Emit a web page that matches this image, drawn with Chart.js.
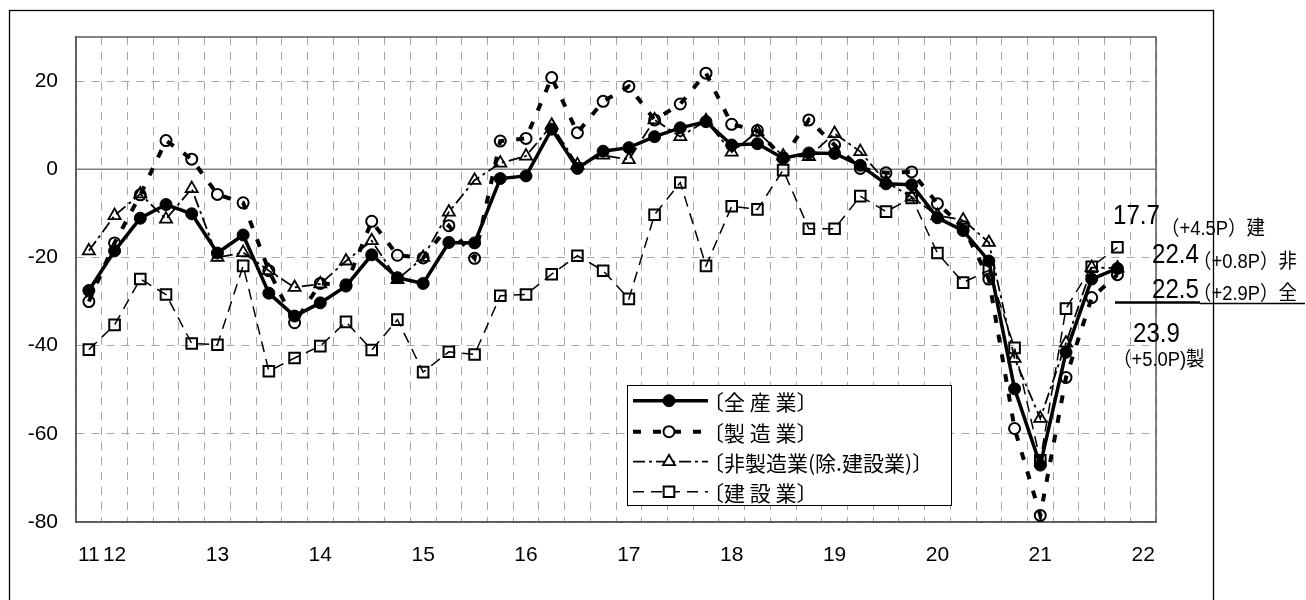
<!DOCTYPE html>
<html lang="ja">
<head>
<meta charset="utf-8">
<title>業況判断BSI</title>
<script src="https://cdn.jsdelivr.net/npm/chart.js@4.4.0/dist/chart.umd.min.js"></script>
<style>
  html, body { margin: 0; padding: 0; background: #fff; }
  #wrap { width: 1306px; height: 600px; }
</style>
</head>
<body>
<div id="wrap"><canvas id="bsi" width="1306" height="600"></canvas></div>
<script>
// 四半期（11年10-12月期 ～ 22年1-3月期）
const categories = [
  '11Q4',
  '12Q1', '12Q2', '12Q3', '12Q4',
  '13Q1', '13Q2', '13Q3', '13Q4',
  '14Q1', '14Q2', '14Q3', '14Q4',
  '15Q1', '15Q2', '15Q3', '15Q4',
  '16Q1', '16Q2', '16Q3', '16Q4',
  '17Q1', '17Q2', '17Q3', '17Q4',
  '18Q1', '18Q2', '18Q3', '18Q4',
  '19Q1', '19Q2', '19Q3', '19Q4',
  '20Q1', '20Q2', '20Q3', '20Q4',
  '21Q1', '21Q2', '21Q3', '21Q4',
  '22Q1'
];

// 年ラベルを出す期
const yearTickAt = ['11Q4', '12Q1', '13Q1', '14Q1', '15Q1', '16Q1', '17Q1', '18Q1', '19Q1', '20Q1', '21Q1', '22Q1'];
const yearTicks = ['11', '12', '13', '14', '15', '16', '17', '18', '19', '20', '21', '22'];
const yTicks = [-80, -60, -40, -20, 0, 20];

// 〔全産業〕
const allIndustry = [
  -27.5, -18.5, -11.1, -8.0, -10.1, -19.0, -14.9, -28.1, -33.3, -30.3, -26.5, -19.4, -24.6, -25.9, -16.6,
  -16.7, -2.1, -1.5, 9.1, 0.2, 4.1, 4.9, 7.4, 9.4, 10.8, 5.5, 5.8, 2.5,
  3.7, 3.6, 0.9, -3.3, -3.5, -11.0, -13.9, -20.8,
  -49.8, -67.1, -41.5, -24.9, -22.5, null
];
// 〔製造業〕
const manufacturing = [
  -30.0, -16.7, -5.8, 6.5, 2.3, -5.7, -7.6, -23.0, -34.8, -25.9, -26.2, -11.8, -19.5, -20.1, -12.8,
  -20.2, 6.4, 7.0, 20.8, 8.3, 15.4, 18.8, 11.2, 14.8, 21.8, 10.2, 8.8, 2.5,
  11.2, 5.5, 0.2, -0.8, -0.6, -7.8, -13.0, -24.9,
  -58.8, -78.5, -47.2, -29.1, -23.9, null
];
// 〔非製造業(除.建設業)〕
const nonManufacturing = [
  -18.5, -10.5, -5.6, -11.3, -4.4, -20.0, -18.9, -23.0, -26.8, -26.0, -20.8, -16.2, -25.0, -20.0, -9.7,
  -2.5, 1.4, 3.0, 10.0, 1.0, 3.2, 2.2, 11.2, 7.4, 11.0, 3.9, 8.5, 3.0,
  2.9, 8.1, 4.0, -2.9, -6.3, -10.5, -11.5, -16.6,
  -42.9, -56.5, -39.4, -22.3, -22.4, null
];
// 〔建設業〕
const construction = [
  -40.9, -35.3, -24.9, -28.4, -39.5, -39.8, -21.9, -45.8, -42.8, -40.1, -34.6, -41.0, -34.1, -46.0, -41.4,
  -42.0, -28.7, -28.4, -23.8, -19.6, -23.0, -29.4, -10.3, -3.0, -21.9, -8.4, -9.1, -0.2,
  -13.5, -13.5, -6.1, -9.6, -6.5, -19.0, -25.7, -22.9,
  -40.5, -66.0, -31.6, -22.1, -17.7, null
];

// 右端の最新値と前期差
const endValues = ['17.7', '22.4', '22.5', '23.9'];
const endChanges = ['（+4.5P）建', '（+0.8P）非', '（+2.9P）全', '（+5.0P)製'];

const numFont = "'Liberation Sans', Arial, sans-serif";
const jpFont = "'Liberation Sans', 'Noto Sans CJK JP', sans-serif";
const clear = 'rgba(255,255,255,0)';

const datasets = [
  {
    label: '〔全 産 業〕', data: allIndustry,
    borderColor: '#000', borderWidth: 3.5,
    pointStyle: 'circle', pointRadius: 6,
    pointBackgroundColor: '#000', pointBorderColor: '#000', pointBorderWidth: 1
  },
  {
    label: '〔製 造 業〕', data: manufacturing,
    borderColor: '#000', borderWidth: 4, borderDash: [8, 12],
    pointStyle: 'circle', pointRadius: 5.5,
    pointBackgroundColor: clear, pointBorderColor: '#000', pointBorderWidth: 2
  },
  {
    label: '〔非製造業(除.建設業)〕', data: nonManufacturing,
    borderColor: '#000', borderWidth: 1.8, borderDash: [12, 4, 3, 4],
    pointStyle: 'triangle', pointRadius: 7,
    pointBackgroundColor: clear, pointBorderColor: '#000', pointBorderWidth: 1.8
  },
  {
    label: '〔建 設 業〕', data: construction,
    borderColor: '#000', borderWidth: 1.5, borderDash: [11, 7],
    pointStyle: 'rect', pointRadius: 7.5,
    pointBackgroundColor: clear, pointBorderColor: '#000', pointBorderWidth: 2
  }
];

// ゼロ線とプロット枠
const framePlugin = {
  id: 'frame',
  beforeDatasetsDraw(chart) {
    const { ctx, chartArea: a, scales: { y } } = chart;
    const y0 = y.getPixelForValue(0);
    ctx.save();
    ctx.strokeStyle = '#7f7f7f';
    ctx.lineWidth = 1.5;
    ctx.beginPath();
    ctx.moveTo(a.left, y0);
    ctx.lineTo(a.right, y0);
    ctx.stroke();
    ctx.strokeStyle = '#595959';
    ctx.strokeRect(a.left, a.top, a.right - a.left, a.bottom - a.top);
    ctx.restore();
  }
};

// 凡例（線種＋マーカー）
const legendPlugin = {
  id: 'boxLegend',
  afterDatasetsDraw(chart) {
    const ctx = chart.ctx;
    const box = { x: 627.5, y: 385.5, w: 324, h: 120 };
    const rows = [400.7, 431.7, 461.7, 491.7];
    ctx.save();
    ctx.fillStyle = '#fff';
    ctx.fillRect(box.x, box.y, box.w, box.h);
    ctx.strokeStyle = '#000';
    ctx.lineWidth = 1;
    ctx.setLineDash([]);
    ctx.strokeRect(box.x, box.y, box.w, box.h);
    chart.data.datasets.forEach((ds, i) => {
      const yy = rows[i];
      ctx.strokeStyle = ds.borderColor;
      ctx.lineWidth = ds.borderWidth;
      ctx.setLineDash(ds.borderDash || []);
      ctx.beginPath();
      ctx.moveTo(633, yy);
      ctx.lineTo(708, yy);
      ctx.stroke();
      ctx.setLineDash([]);
      ctx.fillStyle = ds.pointBackgroundColor === clear ? '#fff' : ds.pointBackgroundColor;
      ctx.lineWidth = ds.pointBorderWidth;
      Chart.helpers.drawPoint(ctx, {
        pointStyle: ds.pointStyle, radius: ds.pointRadius, rotation: 0, borderWidth: ds.pointBorderWidth
      }, 669, yy);
      ctx.fillStyle = '#000';
      ctx.font = "21px 'Noto Sans CJK JP', sans-serif";
      ctx.textBaseline = 'middle';
      ctx.textAlign = 'left';
      ctx.fillText(ds.label, 703, yy + 1);
    });
    ctx.restore();
  }
};

// 外枠と右端の注記
const notesPlugin = {
  id: 'notes',
  afterDraw(chart) {
    const ctx = chart.ctx;
    ctx.save();
    ctx.strokeStyle = '#000';
    ctx.lineWidth = 1.3;
    ctx.strokeRect(9.5, 10.5, 1204, 640);

    const bigAt = [[1113, 224], [1152, 263], [1152, 298], [1133, 342]];
    const smallAt = [[1161, 235], [1193, 268], [1193, 300], [1113, 366]];
    ctx.fillStyle = '#000';
    ctx.textBaseline = 'alphabetic';
    ctx.textAlign = 'left';
    endValues.forEach((t, i) => {
      ctx.save();
      ctx.translate(bigAt[i][0], bigAt[i][1]);
      ctx.scale(0.86, 1);
      ctx.font = '28px ' + numFont;
      ctx.fillText(t, 0, 0);
      ctx.restore();
      ctx.save();
      ctx.translate(smallAt[i][0], smallAt[i][1]);
      ctx.scale(0.92, 1);
      ctx.font = '20px ' + jpFont;
      ctx.fillText(endChanges[i], 0, 0);
      ctx.restore();
    });
    // 全産業の下線
    ctx.lineWidth = 2.5;
    ctx.beginPath();
    ctx.moveTo(1115, 302.5);
    ctx.lineTo(1200, 302.5);
    ctx.stroke();
    ctx.lineWidth = 1.5;
    ctx.beginPath();
    ctx.moveTo(1200, 303.5);
    ctx.lineTo(1305, 303.5);
    ctx.stroke();
    ctx.restore();
  }
};

new Chart(document.getElementById('bsi'), {
  type: 'line',
  data: { labels: categories, datasets: datasets },
  options: {
    responsive: false,
    animation: false,
    layout: { padding: { left: 0, right: 150, top: 37, bottom: 0 } },
    elements: { line: { tension: 0 } },
    plugins: { legend: { display: false }, tooltip: { enabled: false } },
    scales: {
      x: {
        type: 'category',
        offset: true,
        grid: { offset: true, color: '#a6a6a6', lineWidth: 1, drawTicks: false },
        border: { color: '#595959', width: 1.5, dash: [8, 7] },
        ticks: {
          autoSkip: false, maxRotation: 0, padding: 21, color: '#000',
          font: { family: numFont, size: 21 },
          callback(value, index) {
            const k = yearTickAt.indexOf(categories[index]);
            return k >= 0 ? yearTicks[k] : '';
          }
        },
        afterFit(s) { s.height = 78; }
      },
      y: {
        min: -80, max: 30,
        afterBuildTicks(s) { s.ticks = yTicks.map(v => ({ value: v })); },
        grid: {
          color: c => (c.tick && c.tick.value === 0 ? clear : '#a6a6a6'),
          lineWidth: 1, drawTicks: false
        },
        border: { color: '#595959', width: 1.5, dash: [8, 7] },
        ticks: { padding: 18, color: '#000', font: { family: numFont, size: 21 } },
        afterFit(s) { s.width = 76; }
      }
    }
  },
  plugins: [framePlugin, legendPlugin, notesPlugin]
});
</script>
</body>
</html>
